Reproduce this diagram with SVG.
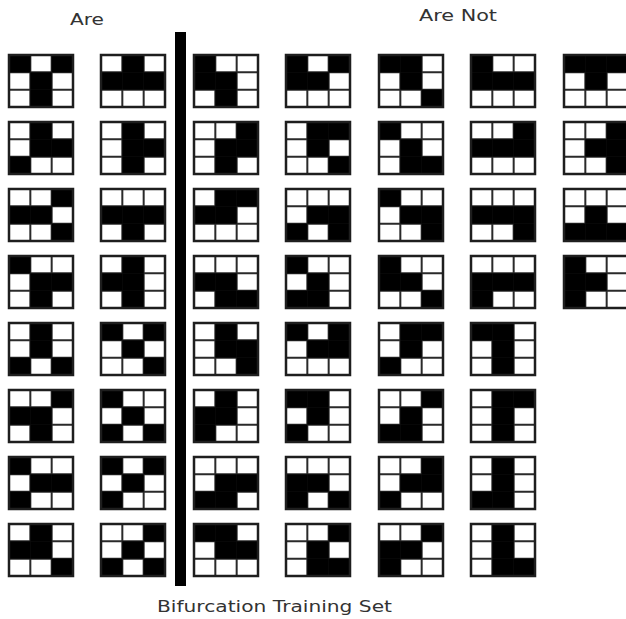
<svg xmlns="http://www.w3.org/2000/svg" xmlns:xlink="http://www.w3.org/1999/xlink" width="626" height="619" viewBox="0 0 626 619">
<style>
.lbl{font-family:"DejaVu Sans","Liberation Sans",sans-serif;font-size:15px;fill:#333}
.cell{fill:#000}
.ln{stroke:#2a2a2a;stroke-width:2}
.frame{fill:none;stroke:#1e1e1e;stroke-width:2.5}
</style>
<defs>
<g id="base"><rect width="64" height="52" fill="#fff"/><path class="ln" d="M21.33 0V52M42.67 0V52M0 17.33H64M0 34.67H64"/></g>
<rect id="fr" class="frame" width="64" height="52"/>
<rect id="k00" class="cell" x="0" y="0" width="21.4" height="17.4"/>
<rect id="k01" class="cell" x="21.3" y="0" width="21.4" height="17.4"/>
<rect id="k02" class="cell" x="42.6" y="0" width="21.4" height="17.4"/>
<rect id="k10" class="cell" x="0" y="17.3" width="21.4" height="17.4"/>
<rect id="k11" class="cell" x="21.3" y="17.3" width="21.4" height="17.4"/>
<rect id="k12" class="cell" x="42.6" y="17.3" width="21.4" height="17.4"/>
<rect id="k20" class="cell" x="0" y="34.6" width="21.4" height="17.4"/>
<rect id="k21" class="cell" x="21.3" y="34.6" width="21.4" height="17.4"/>
<rect id="k22" class="cell" x="42.6" y="34.6" width="21.4" height="17.4"/>
</defs>
<g id="labels">
<text class="lbl" x="70" y="25" textLength="34" lengthAdjust="spacingAndGlyphs">Are</text>
<text class="lbl" x="419" y="21" textLength="78" lengthAdjust="spacingAndGlyphs">Are Not</text>
<text class="lbl" x="157" y="612" textLength="235" lengthAdjust="spacingAndGlyphs">Bifurcation Training Set</text>
</g>
<g id="divider"><rect x="175" y="32" width="11" height="554" fill="#000"/></g>

<g id="r1">
<g id="r1c1" transform="translate(9,55)"><use href="#base"/><use href="#k00"/><use href="#k02"/><use href="#k11"/><use href="#k21"/><use href="#fr"/></g>
<g id="r1c2" transform="translate(101,55)"><use href="#base"/><use href="#k01"/><use href="#k10"/><use href="#k11"/><use href="#k12"/><use href="#fr"/></g>
<g id="r1c3" transform="translate(194,55)"><use href="#base"/><use href="#k00"/><use href="#k10"/><use href="#k11"/><use href="#k21"/><use href="#fr"/></g>
<g id="r1c4" transform="translate(286,55)"><use href="#base"/><use href="#k00"/><use href="#k02"/><use href="#k10"/><use href="#k11"/><use href="#fr"/></g>
<g id="r1c5" transform="translate(379,55)"><use href="#base"/><use href="#k00"/><use href="#k01"/><use href="#k11"/><use href="#k22"/><use href="#fr"/></g>
<g id="r1c6" transform="translate(471,55)"><use href="#base"/><use href="#k00"/><use href="#k10"/><use href="#k11"/><use href="#k12"/><use href="#fr"/></g>
<g id="r1c7" transform="translate(564,55)"><use href="#base"/><use href="#k00"/><use href="#k01"/><use href="#k02"/><use href="#k11"/><use href="#fr"/></g>
</g>

<g id="r2">
<g id="r2c1" transform="translate(9,122)"><use href="#base"/><use href="#k01"/><use href="#k11"/><use href="#k12"/><use href="#k20"/><use href="#fr"/></g>
<g id="r2c2" transform="translate(101,122)"><use href="#base"/><use href="#k01"/><use href="#k11"/><use href="#k12"/><use href="#k21"/><use href="#fr"/></g>
<g id="r2c3" transform="translate(194,122)"><use href="#base"/><use href="#k02"/><use href="#k11"/><use href="#k12"/><use href="#k21"/><use href="#fr"/></g>
<g id="r2c4" transform="translate(286,122)"><use href="#base"/><use href="#k01"/><use href="#k02"/><use href="#k11"/><use href="#k22"/><use href="#fr"/></g>
<g id="r2c5" transform="translate(379,122)"><use href="#base"/><use href="#k00"/><use href="#k11"/><use href="#k21"/><use href="#k22"/><use href="#fr"/></g>
<g id="r2c6" transform="translate(471,122)"><use href="#base"/><use href="#k02"/><use href="#k10"/><use href="#k11"/><use href="#k12"/><use href="#fr"/></g>
<g id="r2c7" transform="translate(564,122)"><use href="#base"/><use href="#k02"/><use href="#k11"/><use href="#k12"/><use href="#k22"/><use href="#fr"/></g>
</g>

<g id="r3">
<g id="r3c1" transform="translate(9,189)"><use href="#base"/><use href="#k02"/><use href="#k10"/><use href="#k11"/><use href="#k22"/><use href="#fr"/></g>
<g id="r3c2" transform="translate(101,189)"><use href="#base"/><use href="#k10"/><use href="#k11"/><use href="#k12"/><use href="#k21"/><use href="#fr"/></g>
<g id="r3c3" transform="translate(194,189)"><use href="#base"/><use href="#k01"/><use href="#k02"/><use href="#k10"/><use href="#k11"/><use href="#fr"/></g>
<g id="r3c4" transform="translate(286,189)"><use href="#base"/><use href="#k11"/><use href="#k12"/><use href="#k20"/><use href="#k22"/><use href="#fr"/></g>
<g id="r3c5" transform="translate(379,189)"><use href="#base"/><use href="#k00"/><use href="#k11"/><use href="#k12"/><use href="#k22"/><use href="#fr"/></g>
<g id="r3c6" transform="translate(471,189)"><use href="#base"/><use href="#k10"/><use href="#k11"/><use href="#k12"/><use href="#k22"/><use href="#fr"/></g>
<g id="r3c7" transform="translate(564,189)"><use href="#base"/><use href="#k11"/><use href="#k20"/><use href="#k21"/><use href="#k22"/><use href="#fr"/></g>
</g>

<g id="r4">
<g id="r4c1" transform="translate(9,256)"><use href="#base"/><use href="#k00"/><use href="#k11"/><use href="#k12"/><use href="#k21"/><use href="#fr"/></g>
<g id="r4c2" transform="translate(101,256)"><use href="#base"/><use href="#k01"/><use href="#k10"/><use href="#k11"/><use href="#k21"/><use href="#fr"/></g>
<g id="r4c3" transform="translate(194,256)"><use href="#base"/><use href="#k10"/><use href="#k11"/><use href="#k21"/><use href="#k22"/><use href="#fr"/></g>
<g id="r4c4" transform="translate(286,256)"><use href="#base"/><use href="#k00"/><use href="#k11"/><use href="#k20"/><use href="#k21"/><use href="#fr"/></g>
<g id="r4c5" transform="translate(379,256)"><use href="#base"/><use href="#k00"/><use href="#k10"/><use href="#k11"/><use href="#k22"/><use href="#fr"/></g>
<g id="r4c6" transform="translate(471,256)"><use href="#base"/><use href="#k10"/><use href="#k11"/><use href="#k12"/><use href="#k20"/><use href="#fr"/></g>
<g id="r4c7" transform="translate(564,256)"><use href="#base"/><use href="#k00"/><use href="#k10"/><use href="#k11"/><use href="#k20"/><use href="#fr"/></g>
</g>

<g id="r5">
<g id="r5c1" transform="translate(9,323)"><use href="#base"/><use href="#k01"/><use href="#k11"/><use href="#k20"/><use href="#k22"/><use href="#fr"/></g>
<g id="r5c2" transform="translate(101,323)"><use href="#base"/><use href="#k00"/><use href="#k02"/><use href="#k11"/><use href="#k22"/><use href="#fr"/></g>
<g id="r5c3" transform="translate(194,323)"><use href="#base"/><use href="#k01"/><use href="#k11"/><use href="#k12"/><use href="#k22"/><use href="#fr"/></g>
<g id="r5c4" transform="translate(286,323)"><use href="#base"/><use href="#k00"/><use href="#k02"/><use href="#k11"/><use href="#k12"/><use href="#fr"/></g>
<g id="r5c5" transform="translate(379,323)"><use href="#base"/><use href="#k01"/><use href="#k02"/><use href="#k11"/><use href="#k20"/><use href="#fr"/></g>
<g id="r5c6" transform="translate(471,323)"><use href="#base"/><use href="#k00"/><use href="#k01"/><use href="#k11"/><use href="#k21"/><use href="#fr"/></g>
</g>

<g id="r6">
<g id="r6c1" transform="translate(9,390)"><use href="#base"/><use href="#k02"/><use href="#k10"/><use href="#k11"/><use href="#k21"/><use href="#fr"/></g>
<g id="r6c2" transform="translate(101,390)"><use href="#base"/><use href="#k00"/><use href="#k11"/><use href="#k20"/><use href="#k22"/><use href="#fr"/></g>
<g id="r6c3" transform="translate(194,390)"><use href="#base"/><use href="#k01"/><use href="#k10"/><use href="#k11"/><use href="#k20"/><use href="#fr"/></g>
<g id="r6c4" transform="translate(286,390)"><use href="#base"/><use href="#k00"/><use href="#k01"/><use href="#k11"/><use href="#k20"/><use href="#fr"/></g>
<g id="r6c5" transform="translate(379,390)"><use href="#base"/><use href="#k02"/><use href="#k11"/><use href="#k20"/><use href="#k21"/><use href="#fr"/></g>
<g id="r6c6" transform="translate(471,390)"><use href="#base"/><use href="#k01"/><use href="#k02"/><use href="#k11"/><use href="#k21"/><use href="#fr"/></g>
</g>

<g id="r7">
<g id="r7c1" transform="translate(9,457)"><use href="#base"/><use href="#k00"/><use href="#k11"/><use href="#k12"/><use href="#k20"/><use href="#fr"/></g>
<g id="r7c2" transform="translate(101,457)"><use href="#base"/><use href="#k00"/><use href="#k02"/><use href="#k11"/><use href="#k20"/><use href="#fr"/></g>
<g id="r7c3" transform="translate(194,457)"><use href="#base"/><use href="#k11"/><use href="#k12"/><use href="#k20"/><use href="#k21"/><use href="#fr"/></g>
<g id="r7c4" transform="translate(286,457)"><use href="#base"/><use href="#k10"/><use href="#k11"/><use href="#k20"/><use href="#k22"/><use href="#fr"/></g>
<g id="r7c5" transform="translate(379,457)"><use href="#base"/><use href="#k02"/><use href="#k11"/><use href="#k12"/><use href="#k20"/><use href="#fr"/></g>
<g id="r7c6" transform="translate(471,457)"><use href="#base"/><use href="#k01"/><use href="#k11"/><use href="#k20"/><use href="#k21"/><use href="#fr"/></g>
</g>

<g id="r8">
<g id="r8c1" transform="translate(9,524)"><use href="#base"/><use href="#k01"/><use href="#k10"/><use href="#k11"/><use href="#k22"/><use href="#fr"/></g>
<g id="r8c2" transform="translate(101,524)"><use href="#base"/><use href="#k02"/><use href="#k11"/><use href="#k20"/><use href="#k22"/><use href="#fr"/></g>
<g id="r8c3" transform="translate(194,524)"><use href="#base"/><use href="#k00"/><use href="#k01"/><use href="#k11"/><use href="#k12"/><use href="#fr"/></g>
<g id="r8c4" transform="translate(286,524)"><use href="#base"/><use href="#k02"/><use href="#k11"/><use href="#k21"/><use href="#k22"/><use href="#fr"/></g>
<g id="r8c5" transform="translate(379,524)"><use href="#base"/><use href="#k02"/><use href="#k10"/><use href="#k11"/><use href="#k20"/><use href="#fr"/></g>
<g id="r8c6" transform="translate(471,524)"><use href="#base"/><use href="#k01"/><use href="#k11"/><use href="#k21"/><use href="#k22"/><use href="#fr"/></g>
</g>
</svg>
